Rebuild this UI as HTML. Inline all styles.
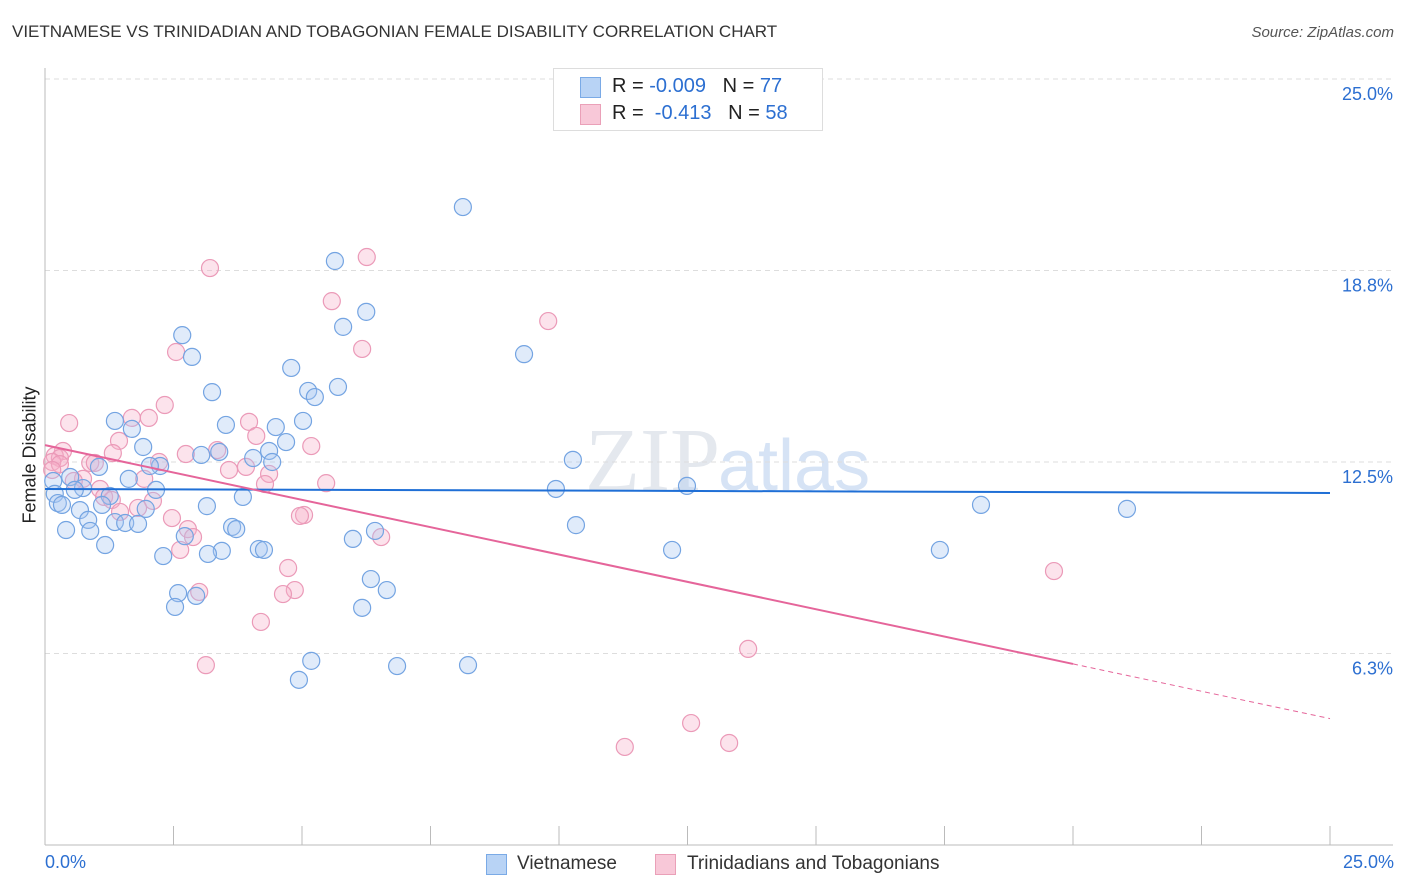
<!DOCTYPE html>
<html><head><meta charset="utf-8"><style>
body{margin:0;background:#fff;font-family:"Liberation Sans",sans-serif;}
#wrap{position:relative;width:1406px;height:892px;overflow:hidden;}
.t{position:absolute;white-space:nowrap;}
</style></head><body>
<div id="wrap">
<div class="t" style="left:12px;top:22px;font-size:17px;color:#333;">VIETNAMESE VS TRINIDADIAN AND TOBAGONIAN FEMALE DISABILITY CORRELATION CHART</div>
<div class="t" style="right:12px;top:24px;font-size:15px;color:#555;font-style:italic;">Source: ZipAtlas.com</div>
<svg id="svg" width="1406" height="892" style="position:absolute;left:0;top:0"></svg>
<div class="t" style="left:553px;top:68px;width:268px;height:61px;border:1px solid #ddd;background:#fff;">
 <div style="position:absolute;left:26px;top:8px;width:19px;height:19px;background:#b8d3f5;border:1px solid #7aaae6;"></div>
 <div class="t" style="left:58px;top:6px;font-size:20px;color:#222;">R = <span style="color:#2c6fd1">-0.009</span>&nbsp;&nbsp;&nbsp;N = <span style="color:#2c6fd1">77</span></div>
 <div style="position:absolute;left:26px;top:35px;width:19px;height:19px;background:#f8c8d8;border:1px solid #eaa0b8;"></div>
 <div class="t" style="left:58px;top:33px;font-size:20px;color:#222;">R = &nbsp;<span style="color:#2c6fd1">-0.413</span>&nbsp;&nbsp;&nbsp;N = <span style="color:#2c6fd1">58</span></div>
</div>
<div class="t" style="left:18px;top:455px;font-size:18px;color:#222;transform:translate(-50%,-50%) rotate(-90deg);transform-origin:center;margin-left:12px">Female Disability</div>
<div class="t" style="left:45px;top:852px;font-size:18px;color:#2c6fd1;">0.0%</div>
<div class="t" style="right:12px;top:852px;font-size:18px;color:#2c6fd1;">25.0%</div>
<div class="t" style="left:486px;top:854px;width:19px;height:19px;background:#b8d3f5;border:1px solid #7aaae6;"></div>
<div class="t" style="left:517px;top:853px;font-size:19px;color:#333;">Vietnamese</div>
<div class="t" style="left:655px;top:854px;width:19px;height:19px;background:#f8c8d8;border:1px solid #eaa0b8;"></div>
<div class="t" style="left:687px;top:853px;font-size:19px;color:#333;">Trinidadians and Tobagonians</div>
</div>
<script>
const yTicks=[25.0,18.8,12.5,6.3];
const yTickVals=[25,18.75,12.5,6.25];
const blueX=[8.13,5.64,6.25,5.80,2.67,2.86,9.32,4.79,3.25,5.70,5.12,5.25,1.36,3.52,5.02,4.49,1.69,1.91,4.69,3.39,3.04,4.05,4.36,4.42,2.24,2.04,1.05,10.27,0.49,1.63,0.16,0.74,0.58,2.16,0.19,3.85,9.94,12.49,1.26,1.11,0.25,0.33,3.15,0.68,1.96,18.21,21.05,0.84,1.36,1.56,1.81,3.64,3.72,10.33,0.41,0.88,6.42,5.99,2.72,1.17,4.16,4.26,3.44,3.17,2.30,12.20,17.41,6.34,6.65,2.59,2.94,2.53,6.17,5.18,6.85,8.23,4.94];
const blueY=[20.82,19.06,17.40,16.91,16.64,15.93,16.02,15.57,14.78,14.95,14.82,14.62,13.84,13.71,13.84,13.64,13.58,12.99,13.15,12.83,12.73,12.63,12.86,12.50,12.37,12.37,12.34,12.57,12.01,11.95,11.88,11.65,11.59,11.59,11.46,11.36,11.62,11.72,11.39,11.10,11.16,11.10,11.06,10.93,10.97,11.10,10.97,10.61,10.54,10.51,10.48,10.38,10.31,10.44,10.28,10.25,10.25,9.99,10.08,9.79,9.66,9.63,9.60,9.50,9.43,9.63,9.63,8.68,8.32,8.22,8.13,7.77,7.74,6.01,5.84,5.87,5.39];
const pinkX=[3.21,6.26,5.58,9.79,6.17,2.55,2.33,0.47,1.69,2.02,3.97,4.11,1.44,5.18,0.35,3.35,0.19,0.29,1.32,2.74,0.14,0.29,0.88,0.97,2.22,3.58,3.91,0.74,4.36,1.93,0.56,5.47,1.07,4.28,1.15,1.30,2.10,1.81,1.46,2.47,5.04,4.96,2.78,6.54,2.88,2.63,4.73,4.86,3.00,4.63,4.20,19.63,13.68,3.13,12.57,13.31,11.28,0.14];
const pinkY=[18.83,19.19,17.75,17.10,16.19,16.09,14.36,13.77,13.94,13.94,13.81,13.35,13.19,13.02,12.86,12.89,12.70,12.63,12.79,12.76,12.50,12.43,12.47,12.47,12.50,12.24,12.34,11.95,12.11,11.95,11.88,11.81,11.62,11.78,11.36,11.26,11.23,11.00,10.87,10.67,10.77,10.74,10.31,10.05,10.05,9.63,9.04,8.32,8.26,8.19,7.28,8.94,6.40,5.87,3.98,3.33,3.20,12.24];
const blueTrend=[11.62,-0.0052];
const pinkTrend=[13.05,-0.357];
const pinkSolidEnd=20;
const X=v=>45+v*51.4, Y=v=>845-v*30.64;
const svg=document.getElementById('svg'),NS='http://www.w3.org/2000/svg';
function mk(t,a){const e=document.createElementNS(NS,t);for(const k in a)e.setAttribute(k,a[k]);svg.appendChild(e);return e;}
let e;
e=mk('text',{x:720,y:490,'font-size':90,'font-family':'Liberation Serif','fill':'#e4e8ee','text-anchor':'end'});e.textContent='ZIP';


e=mk('text',{x:718,y:490,'font-size':72,'font-family':'Liberation Sans','fill':'#d6e3f5'});e.textContent='atlas';


yTickVals.forEach((v,i)=>{
 e=mk('line',{x1:45,x2:1393,y1:Y(v),y2:Y(v),stroke:'#ddd','stroke-dasharray':'5,4'});
 
 
 e=mk('text',{x:1393,y:Y(v)+21,'font-size':18,fill:'#2c6fd1','text-anchor':'end','font-family':'Liberation Sans'});e.textContent=yTicks[i].toFixed(1)+'%';
 
 
});
e=mk('line',{x1:45,x2:45,y1:68,y2:845,stroke:'#bbb'});


e=mk('line',{x1:45,x2:1393,y1:845,y2:845,stroke:'#bbb'});


for(let i=1;i<=10;i++){e=mk('line',{x1:X(i*2.5),x2:X(i*2.5),y1:826,y2:845,stroke:'#bbb'});
 
 }
pinkX.forEach((x,i)=>{e=mk('circle',{cx:X(x),cy:Y(pinkY[i]),r:8.5,fill:'rgba(246,175,200,0.35)',stroke:'#eb9ab8','stroke-width':1.2});
 
 });
blueX.forEach((x,i)=>{e=mk('circle',{cx:X(x),cy:Y(blueY[i]),r:8.5,fill:'rgba(165,198,240,0.35)',stroke:'#74a4e2','stroke-width':1.2});
 
 });
e=mk('line',{x1:X(0),x2:X(25),y1:Y(blueTrend[0]),y2:Y(blueTrend[0]+blueTrend[1]*25),stroke:'#1f6fd6','stroke-width':2});


e=mk('line',{x1:X(0),x2:X(pinkSolidEnd),y1:Y(pinkTrend[0]),y2:Y(pinkTrend[0]+pinkTrend[1]*pinkSolidEnd),stroke:'#e5659a','stroke-width':2});


e=mk('line',{x1:X(pinkSolidEnd),x2:X(25),y1:Y(pinkTrend[0]+pinkTrend[1]*pinkSolidEnd),y2:Y(pinkTrend[0]+pinkTrend[1]*25),stroke:'#e5659a','stroke-width':1,'stroke-dasharray':'5,4'});


</script>
</body></html>
